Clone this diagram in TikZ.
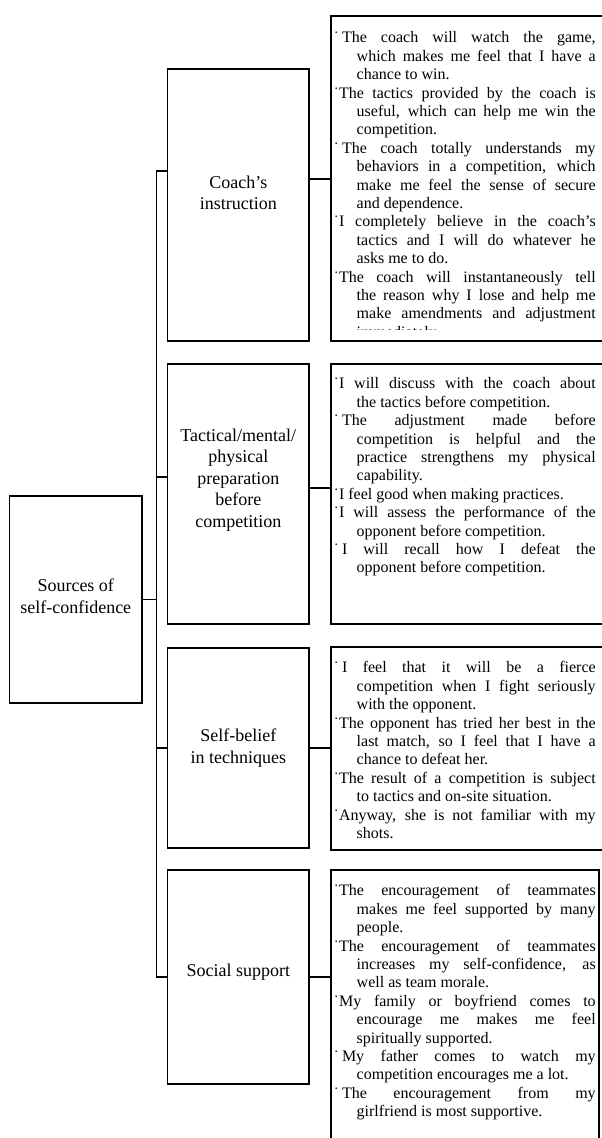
\documentclass[tikz,border=0pt]{standalone}
\usepackage{fontspec}
\setmainfont{Liberation Serif}
\usetikzlibrary{positioning}
\newcommand{\pitem}[1]{\noindent\hangindent=23pt\hangafter=1 #1\par}
\newcommand{\dt}{˙\kern3pt}
\hbadness=10000
\tolerance=10000
\begin{document}
\begin{tikzpicture}[x=1pt,y=-1pt,line width=1.4pt,
    catbox/.style={draw,inner sep=0pt,outer sep=0pt,anchor=north west,minimum width=141.3pt},
    srcbox/.style={draw,inner sep=0pt,outer sep=0pt,anchor=north west},
    cattext/.style={align=center,inner sep=0pt,font=\fontsize{18}{21.5}\selectfont},
    notetext/.style={anchor=north west,inner sep=0pt,text width=262pt,align=justify,
      font=\fontsize{16}{18.4}\selectfont}]
    \useasboundingbox (0,0) rectangle (602,1138);
    \clip (0,0) rectangle (602,1138);
    \node[srcbox,minimum width=132.5pt,minimum height=207pt] (root) at (9.5,496) {};
    \node[catbox,minimum height=272pt] (coach) at (167.7,69) {};
    \node[catbox,minimum height=260pt] (tact) at (167.7,364) {};
    \node[catbox,minimum height=200pt] (belief) at (167.7,648) {};
    \node[catbox,minimum height=214pt] (social) at (167.7,870) {};
    \node[srcbox,minimum width=290pt,minimum height=325pt] (coachsrc) at (331,16) {};
    \node[srcbox,minimum width=290pt,minimum height=260pt] (tactsrc) at (331,364) {};
    \node[srcbox,minimum width=290pt,minimum height=203pt] (beliefsrc) at (331,647) {};
    \node[srcbox,minimum width=268pt,minimum height=320pt] (socialsrc) at (331,870) {};
    \node[cattext] (roottxt) at (75.75,596) {Sources of\\self-confidence};
    \node[cattext] (coachtxt) at (238.3,193) {Coach’s\\instruction};
    \node[cattext] (tacttxt) at (238.3,480) {Tactical/mental/\\physical\\preparation\\before\\competition};
    \node[cattext] (belieftxt) at (238.3,748) {Self-belief\\ in techniques};
    \node[cattext] (socialtxt) at (238.3,972) {Social support};
    \coordinate (spine) at (156.7,0);
    \path ([yshift=34pt]coach.west) coordinate (cl) ([yshift=26pt]coach.east) coordinate (cr);
    \path ([yshift=17pt]tact.west) coordinate (tl) ([yshift=6pt]tact.east) coordinate (tr);
    \draw (cl) -| (spine |- social.west) -- (social.west);
    \draw (root.east) -- (root.east -| spine);
    \draw (tl) -- (tl -| spine);
    \draw (belief.west) -- (belief.west -| spine);
    \draw (cr) -- (cr -| coachsrc.west);
    \draw (tr) -- (tr -| tactsrc.west);
    \draw (belief.east) -- (belief.east -| beliefsrc.west);
    \draw (social.east) -- (social.east -| socialsrc.west);
    \begin{scope}
      \clip (331,16) rectangle (612,329);
      \node[notetext] (coachnote) at (333,31) {%
        \pitem{\dt The coach will watch the game,\linebreak which makes me feel that I have a\linebreak chance to win.}
        \pitem{˙The tactics provided by the coach is\linebreak useful, which can help me win the\linebreak competition.}
        \pitem{\dt The coach totally understands my\linebreak behaviors in a competition, which\linebreak make me feel the sense of secure\linebreak and dependence.}
        \pitem{˙I completely believe in the coach’s\linebreak tactics and I will do whatever he\linebreak asks me to do.}
        \pitem{˙The coach will instantaneously tell\linebreak the reason why I lose and help me\linebreak make amendments and adjustment\linebreak immediately.}};
    \end{scope}
    \node[notetext] (tactnote) at (333,377) {%
      \pitem{˙I will discuss with the coach about\linebreak the tactics before competition.}
      \pitem{\dt The adjustment made before\linebreak competition is helpful and the\linebreak practice strengthens my physical\linebreak capability.}
      \pitem{˙I feel good when making practices.}
      \pitem{˙I will assess the performance of the\linebreak opponent before competition.}
      \pitem{\dt I will recall how I defeat the\linebreak opponent before competition.}};
    \node[notetext] (beliefnote) at (333,661) {%
      \pitem{\dt I feel that it will be a fierce\linebreak competition when I fight seriously\linebreak with the opponent.}
      \pitem{˙The opponent has tried her best in the\linebreak last match, so I feel that I have a\linebreak chance to defeat her.}
      \pitem{˙The result of a competition is subject\linebreak to tactics and on-site situation.}
      \pitem{˙Anyway, she is not familiar with my\linebreak shots.}};
    \node[notetext] (socialnote) at (333,884) {%
      \pitem{˙The encouragement of teammates\linebreak makes me feel supported by many\linebreak people.}
      \pitem{˙The encouragement of teammates\linebreak increases my self-confidence, as\linebreak well as team morale.}
      \pitem{˙My family or boyfriend comes to\linebreak encourage me makes me feel\linebreak spiritually supported.}
      \pitem{\dt My father comes to watch my\linebreak competition encourages me a lot.}
      \pitem{\dt The encouragement from my\linebreak girlfriend is most supportive.}};
\end{tikzpicture}
\end{document}
